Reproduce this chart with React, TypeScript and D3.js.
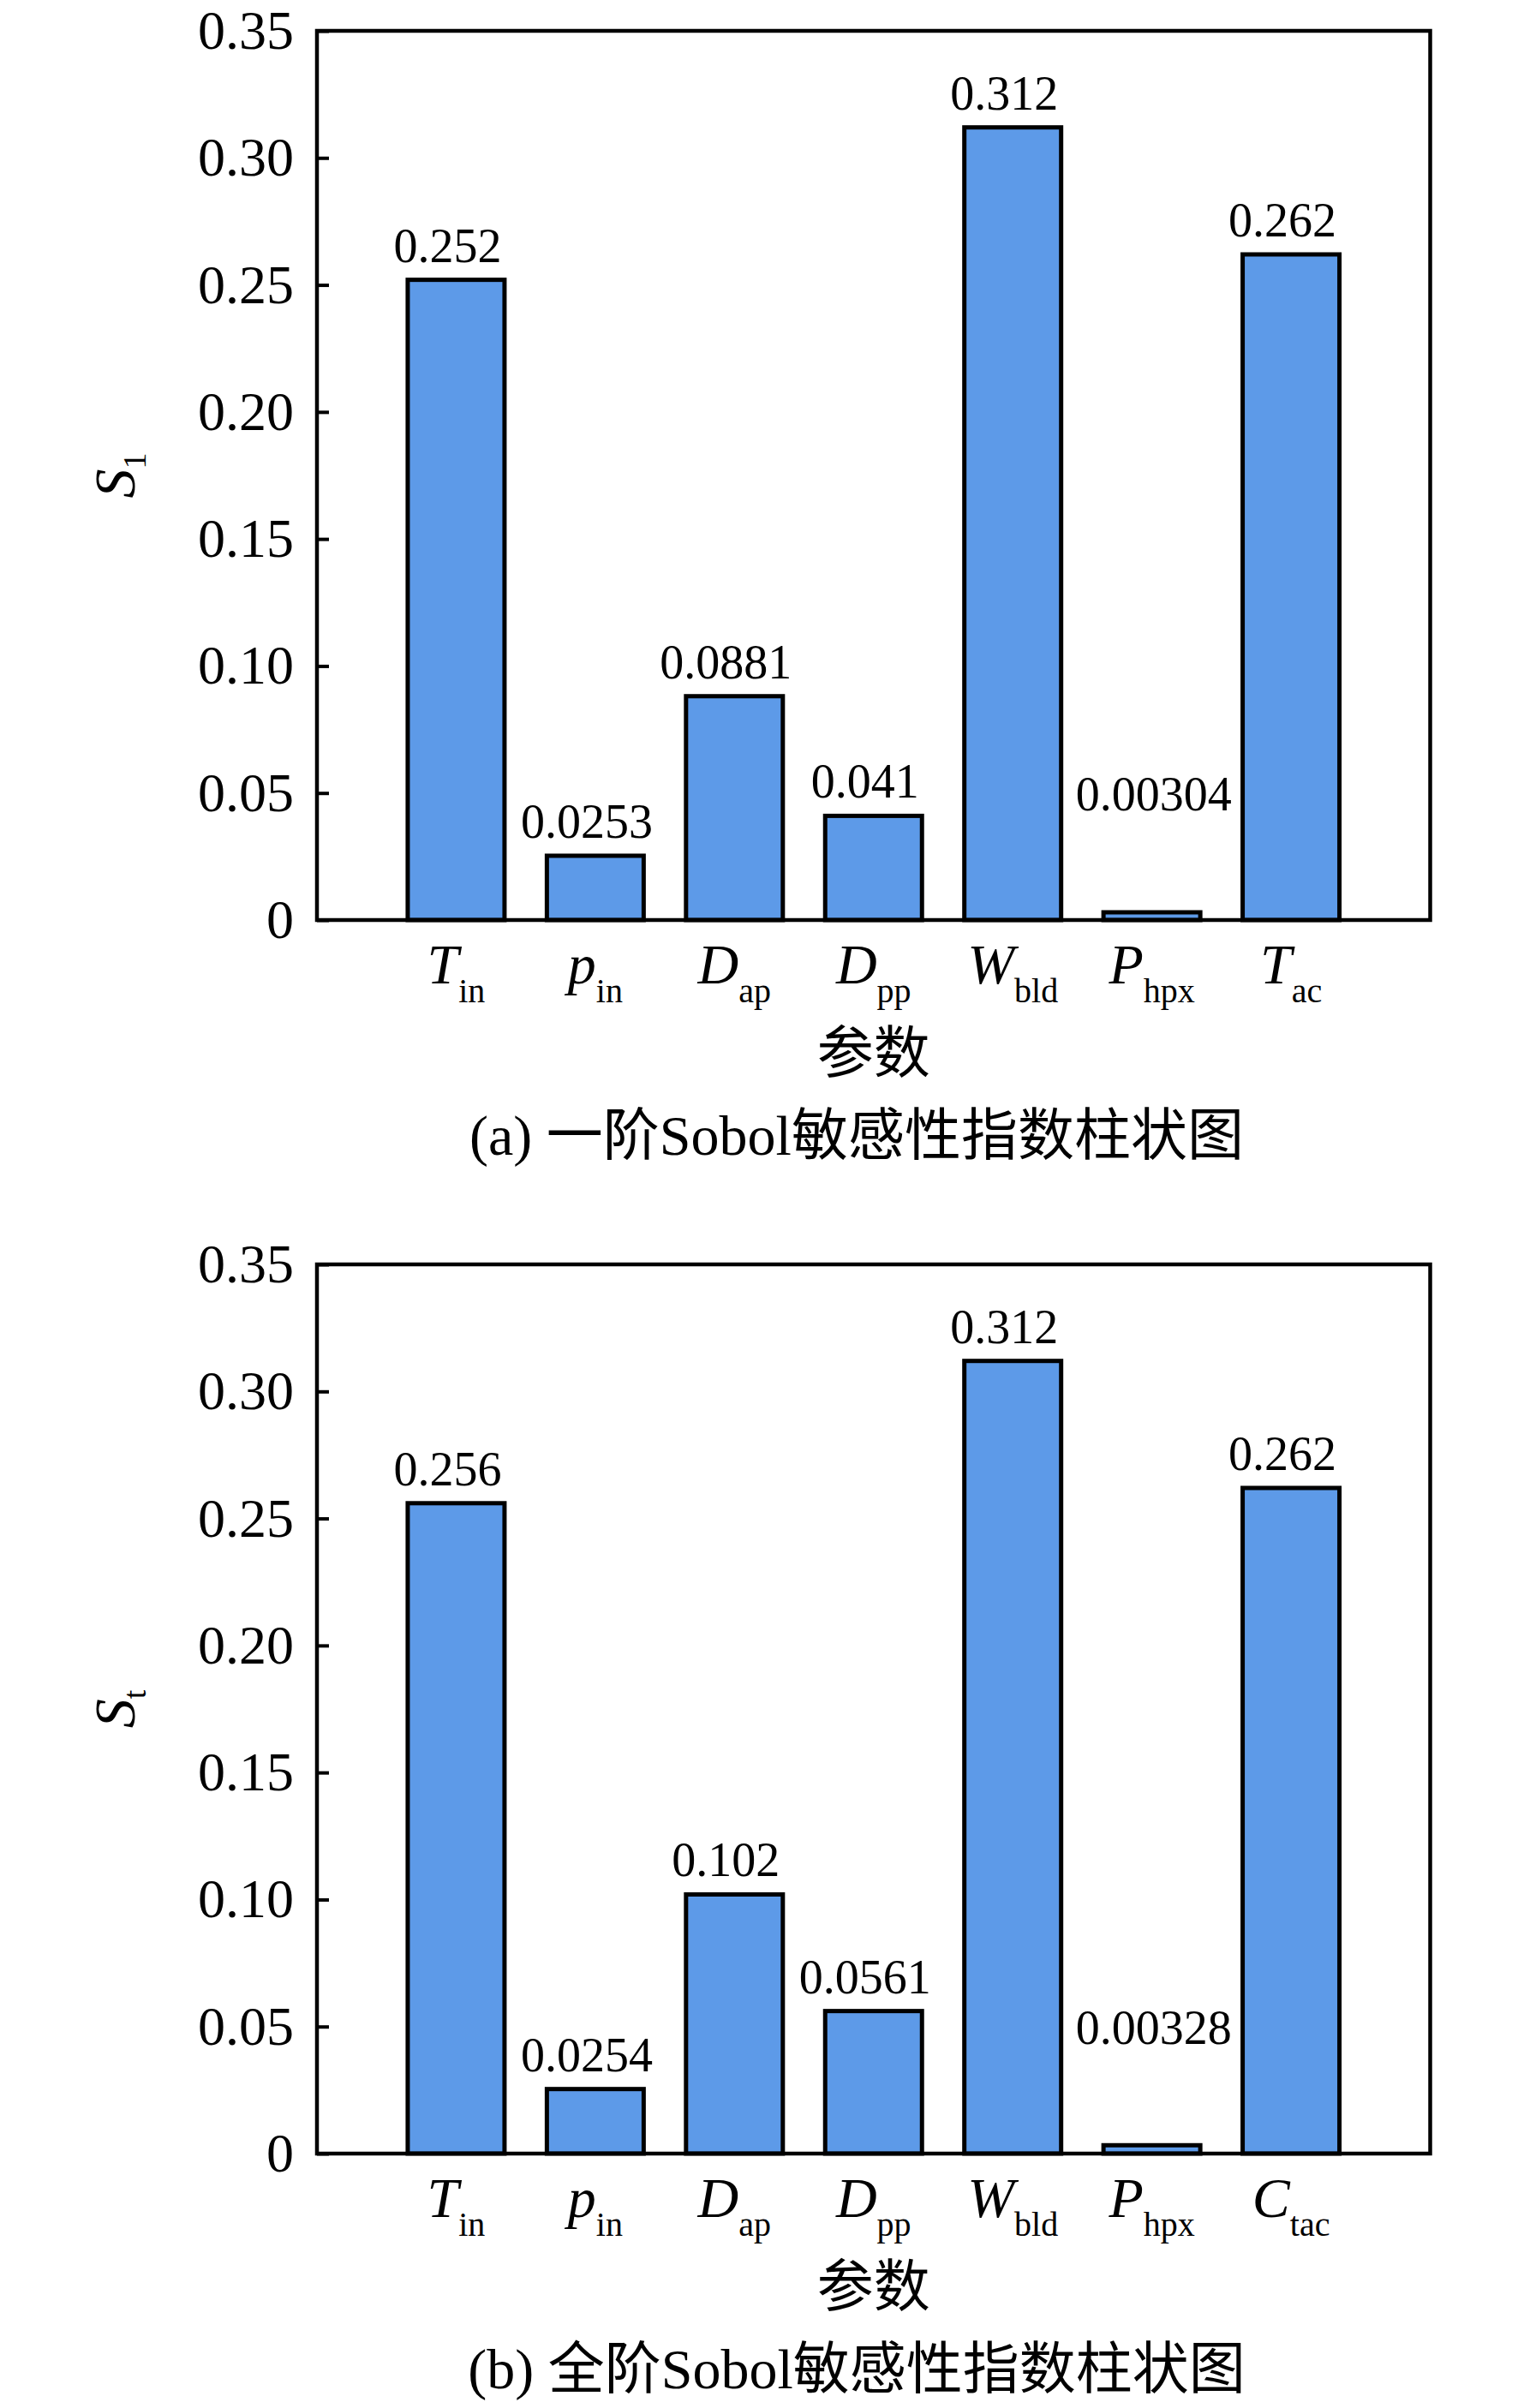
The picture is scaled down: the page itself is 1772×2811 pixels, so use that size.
import { useEffect, useRef } from "react";
import * as d3 from "d3";

// parameter names: italic main symbol + upright subscript
const symbolsA = ["T", "p", "D", "D", "W", "P", "T"];
const subsA = ["in", "in", "ap", "pp", "bld", "hpx", "ac"];
const symbolsB = ["T", "p", "D", "D", "W", "P", "C"];
const subsB = ["in", "in", "ap", "pp", "bld", "hpx", "tac"];

// first-order and total Sobol indices
const firstOrder = [0.252, 0.0253, 0.0881, 0.041, 0.312, 0.00304, 0.262];
const totalOrder = [0.256, 0.0254, 0.102, 0.0561, 0.312, 0.00328, 0.262];

const yTicks = [0, 0.05, 0.1, 0.15, 0.2, 0.25, 0.3, 0.35];
const yTickLabels = ["0", "0.05", "0.10", "0.15", "0.20", "0.25", "0.30", "0.35"];

const captionA = "(a) 一阶Sobol敏感性指数柱状图";
const captionB = "(b) 全阶Sobol敏感性指数柱状图";
const xTitle = "参数";

const FONT = "'Times New Roman', 'Liberation Serif', 'Noto Sans CJK SC', serif";
const BAR = "#5d9ae8";

interface Panel {
  top: number;
  values: number[];
  symbols: string[];
  subs: string[];
  ySub: string;
  caption: string;
}

export default function App() {
  const ref = useRef<SVGSVGElement>(null);

  useEffect(() => {
    if (!ref.current) return;
    const svg = d3.select(ref.current);
    svg.selectAll("*").remove();

    const width = 1772;
    const height = 2811;
    svg.attr("width", width).attr("height", height).style("font-family", FONT);
    svg.append("rect").attr("width", width).attr("height", height).attr("fill", "#fff");

    const left = 370;
    const right = 1669.5;
    const plotH = 1038;
    const barW = 113;

    const panels: Panel[] = [
      { top: 36, values: firstOrder, symbols: symbolsA, subs: subsA, ySub: "1", caption: captionA },
      { top: 1476, values: totalOrder, symbols: symbolsB, subs: subsB, ySub: "t", caption: captionB },
    ];

    panels.forEach((p) => {
      const bottom = p.top + plotH;
      const g = svg.append("g");

      const x = d3
        .scalePoint<number>()
        .domain(d3.range(p.values.length))
        .range([left, right])
        .padding(1);

      const y = d3.scaleLinear().domain([0, 0.35]).range([bottom, p.top]);

      // bars
      g.selectAll(".bar")
        .data(p.values)
        .enter()
        .append("rect")
        .attr("class", "bar")
        .attr("x", (_, i) => x(i)! - barW / 2)
        .attr("y", (d) => y(d))
        .attr("width", barW)
        .attr("height", (d) => bottom - y(d))
        .attr("fill", BAR)
        .attr("stroke", "#000")
        .attr("stroke-width", 5);

      // value labels (tiny bars get their label lifted)
      g.selectAll(".val")
        .data(p.values)
        .enter()
        .append("text")
        .attr("class", "val")
        .attr("x", (_, i) => x(i)! + (p.values[i] < 0.01 ? 2 : -10))
        .attr("y", (d) => (d < 0.01 ? y(0.043) : y(d) - 21))
        .attr("text-anchor", "middle")
        .attr("font-size", 56)
        .attr("fill", "#000")
        .text((d) => String(d));

      // y axis with inward ticks
      const axis = g
        .append("g")
        .attr("transform", `translate(${left},0)`)
        .call(
          d3
            .axisLeft(y)
            .tickValues(yTicks)
            .tickFormat((_, i) => yTickLabels[i])
            .tickSizeInner(-14)
            .tickSizeOuter(0)
            .tickPadding(27)
        );
      axis.select(".domain").remove();
      axis.selectAll(".tick line").attr("stroke", "#000").attr("stroke-width", 4);
      axis
        .selectAll(".tick text")
        .attr("font-size", 64)
        .attr("font-family", FONT)
        .attr("fill", "#000");

      // frame
      g.append("rect")
        .attr("x", left)
        .attr("y", p.top)
        .attr("width", right - left)
        .attr("height", plotH)
        .attr("fill", "none")
        .attr("stroke", "#000")
        .attr("stroke-width", 4.5);

      // category labels
      p.symbols.forEach((s, i) => {
        const t = g
          .append("text")
          .attr("x", x(i)!)
          .attr("y", bottom + 74)
          .attr("text-anchor", "middle")
          .attr("fill", "#000");
        t.append("tspan").attr("font-size", 66).attr("font-style", "italic").text(s);
        t.append("tspan").attr("font-size", 40).attr("dy", 22).text(p.subs[i]);
      });

      // y title
      const yt = g
        .append("text")
        .attr("transform", `translate(157,${(p.top + bottom) / 2}) rotate(-90)`)
        .attr("text-anchor", "middle")
        .attr("fill", "#000");
      yt.append("tspan").attr("font-size", 68).attr("font-style", "italic").text("S");
      yt.append("tspan").attr("font-size", 38).attr("dy", 13).text(p.ySub);

      // x title
      g.append("text")
        .attr("x", (left + right) / 2)
        .attr("y", bottom + 178)
        .attr("text-anchor", "middle")
        .attr("font-size", 66)
        .attr("fill", "#000")
        .text(xTitle);

      // caption
      g.append("text")
        .attr("x", 1000)
        .attr("y", bottom + 274)
        .attr("text-anchor", "middle")
        .attr("font-size", 66)
        .attr("fill", "#000")
        .text(p.caption);
    });
  }, []);

  return (
    <svg
      ref={ref}
      style={{ position: "absolute", left: 0, top: 0, display: "block" }}
    />
  );
}
